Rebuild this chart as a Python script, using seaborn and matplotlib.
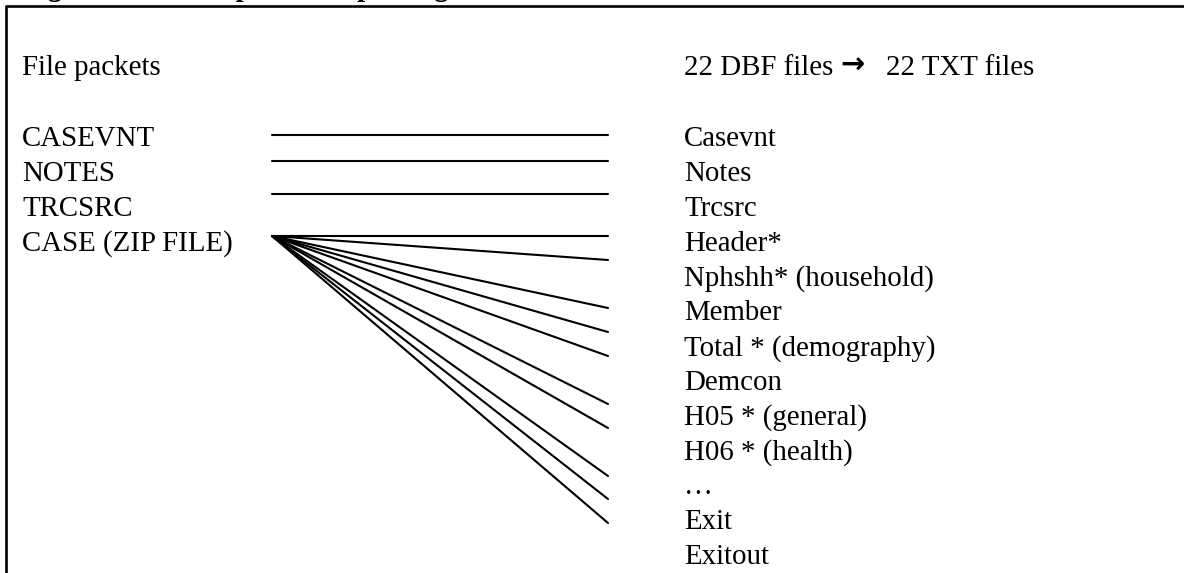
import pandas as pd
import seaborn as sns
import matplotlib.pyplot as plt

# labels on both sides of the diagram
packets = ['CASEVNT', 'NOTES', 'TRCSRC', 'CASE (ZIP FILE)']
txt_files = ['Casevnt', 'Notes', 'Trcsrc', 'Header*', 'Nphshh* (household)',
             'Member', 'Total * (demography)', 'Demcon', 'H05 * (general)',
             'H06 * (health)', '\u2026', 'Exit', 'Exitout']
title = 'Figure 2.1: Example of file passing'
left_head = 'File packets'
right_head = ['22 DBF files', '\u2192', '22 TXT files']

# connector lines (page units)
direct_y = [135, 161, 194]                      # one packet -> one file
zip_y = [236, 260, 308, 332, 356, 404, 428, 476, 499, 523]  # zip -> many files
link_x0, link_x1 = 272, 608
zip_origin_y = 236

rows = []
for i, y in enumerate(direct_y):
    rows += [{'seg': f'd{i}', 'x': link_x0, 'y': y}, {'seg': f'd{i}', 'x': link_x1, 'y': y}]
for i, y in enumerate(zip_y):
    rows += [{'seg': f'z{i}', 'x': link_x0, 'y': zip_origin_y}, {'seg': f'z{i}', 'x': link_x1, 'y': y}]
links = pd.DataFrame(rows)

sns.set_theme(style='white')
plt.rcParams['font.family'] = ['Liberation Serif', 'DejaVu Serif']
plt.rcParams['text.color'] = 'black'

W, H = 1184, 573
fig = plt.figure(figsize=(W / 100, H / 100), dpi=100)
ax = fig.add_axes([0, 0, 1, 1])
ax.set_xlim(0, W)
ax.set_ylim(H, 0)
ax.axis('off')

sns.lineplot(data=links, x='x', y='y', units='seg', estimator=None,
             color='black', linewidth=1.5, sort=False, legend=False, ax=ax)

# box border (top and left sides visible)
ax.plot([6, W + 5], [6, 6], color='black', lw=1.9, solid_capstyle='butt')
ax.plot([6, 6], [5, H + 5], color='black', lw=1.9, solid_capstyle='butt')

fs = 20.8
# caption sits above the page edge, only its lowest strokes show
ax.text(22, -4.5, title, fontsize=fs, fontweight='bold', va='baseline', ha='left')

ax.text(22, 75, left_head, fontsize=fs, va='baseline')
ax.text(684, 75, right_head[0], fontsize=fs, va='baseline')
ax.text(853, 66, right_head[1], fontsize=fs, fontweight='bold',
        family=['DejaVu Sans'], va='center', ha='center')
ax.text(886, 75, right_head[2], fontsize=fs, va='baseline')

row0, step = 146.5, 34.8
for i, name in enumerate(packets):
    ax.text(22, row0 + i * step, name, fontsize=fs, va='baseline')
for i, name in enumerate(txt_files):
    ax.text(684, row0 + i * step, name, fontsize=fs, va='baseline')

fig.savefig('out.png', dpi=100, facecolor='white')
